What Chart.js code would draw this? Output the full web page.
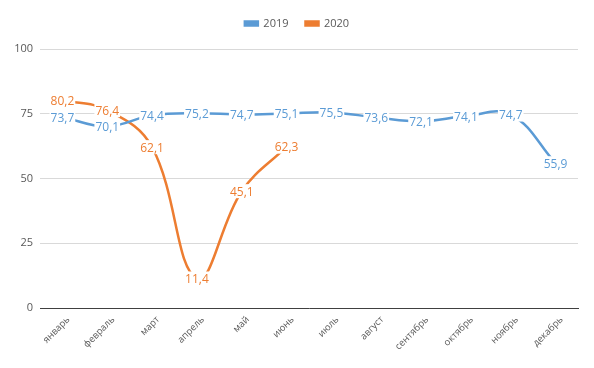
<!DOCTYPE html>
<html>
<head>
<meta charset="utf-8">
<script src="https://cdn.jsdelivr.net/npm/chart.js@4"></script>
<style>
  html, body { margin: 0; padding: 0; background: #fff; }
  #wrap { width: 594px; height: 368px; }
</style>
</head>
<body>
<div id="wrap"><canvas id="salesChart" width="594" height="368"></canvas></div>
<script>
// Months on the x axis
const months = ["январь", "февраль", "март", "апрель", "май", "июнь",
  "июль", "август", "сентябрь", "октябрь", "ноябрь", "декабрь"];

// Series values
const values2019 = [73.7, 70.1, 74.4, 75.2, 74.7, 75.1, 75.5, 73.6, 72.1, 74.1, 74.7, 55.9];
const values2020 = [80.2, 76.4, 62.1, 11.4, 45.1, 62.3];

// Y axis ticks
const yTicks = [0, 25, 50, 75, 100];

const fontFamily = "'Open Sans', 'DejaVu Sans', sans-serif";

// Draws value labels centered on each point, with a white box behind them
const valueLabels = {
  id: "valueLabels",
  afterDatasetsDraw(chart) {
    const ctx = chart.ctx;
    ctx.save();
    ctx.font = "12px " + fontFamily;
    ctx.textAlign = "center";
    ctx.textBaseline = "middle";
    chart.data.datasets.forEach((ds, i) => {
      const meta = chart.getDatasetMeta(i);
      meta.data.forEach((pt, j) => {
        const text = ds.data[j].toFixed(1).replace(".", ",");
        const w = ctx.measureText(text).width;
        ctx.fillStyle = "#fff";
        ctx.fillRect(pt.x - w / 2 - 1, pt.y - 7, w + 2, 14);
        ctx.fillStyle = ds.borderColor;
        ctx.fillText(text, pt.x, pt.y + 1);
      });
    });
    ctx.restore();
  }
};

// Leave a bit more room under the legend
const legendGap = {
  id: "legendGap",
  beforeInit(chart) {
    const fit = chart.legend.fit;
    chart.legend.fit = function () {
      fit.call(this);
      this.height += 10;
    };
  }
};

new Chart(document.getElementById("salesChart"), {
  type: "line",
  data: {
    labels: months,
    datasets: [
      {
        label: "2019",
        data: values2019,
        borderColor: "#5B9BD5",
        backgroundColor: "#5B9BD5",
        borderWidth: 2.5,
        tension: 0.4,
        pointRadius: 0,
        fill: false
      },
      {
        label: "2020",
        data: values2020,
        borderColor: "#ED7D31",
        backgroundColor: "#ED7D31",
        borderWidth: 2.5,
        tension: 0.4,
        pointRadius: 0,
        fill: false
      }
    ]
  },
  options: {
    responsive: false,
    animation: false,
    layout: { padding: { top: 1, right: 0, left: 0, bottom: 0 } },
    plugins: {
      legend: {
        position: "top",
        labels: {
          boxWidth: 13,
          boxHeight: 4,
          padding: 17,
          color: "#595959",
          font: { size: 11, family: fontFamily }
        }
      },
      tooltip: { enabled: false }
    },
    scales: {
      x: {
        offset: true,
        grid: { display: false, drawTicks: false },
        border: { display: true, color: "#404040", width: 1 },
        ticks: {
          color: "#595959",
          font: { size: 9.5, family: fontFamily },
          maxRotation: 45,
          minRotation: 45,
          padding: 6,
          labelOffset: 6
        },
        afterFit(scale) { scale.height = 60; }
      },
      y: {
        min: 0,
        max: 100,
        afterBuildTicks(scale) { scale.ticks = yTicks.map(v => ({ value: v })); },
        grid: { color: "#d9d9d9", drawTicks: false },
        border: { display: false },
        ticks: {
          color: "#595959",
          font: { size: 11, family: fontFamily },
          padding: 7
        },
        afterFit(scale) { scale.width = 40; }
      },
      // empty right-hand strip so the plot stops short of the edge
      yRight: {
        position: "right",
        min: 0,
        max: 100,
        grid: { display: false, drawTicks: false },
        border: { display: false },
        ticks: { display: false },
        afterFit(scale) { scale.width = 16; }
      }
    }
  },
  plugins: [valueLabels, legendGap]
});
</script>
</body>
</html>
